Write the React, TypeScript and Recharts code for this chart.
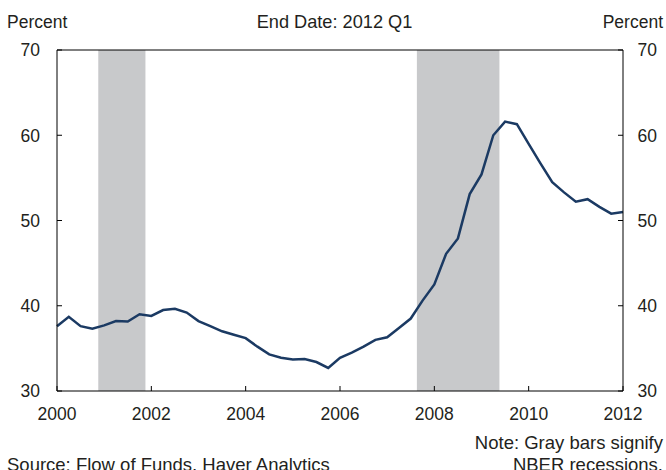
import React from 'react';
import {
  ComposedChart,
  Line,
  XAxis,
  YAxis,
  ReferenceArea,
  ReferenceLine,
} from 'recharts';

const quarters = [
  2000, 2000.25, 2000.5, 2000.75, 2001, 2001.25, 2001.5, 2001.75,
  2002, 2002.25, 2002.5, 2002.75, 2003, 2003.25, 2003.5, 2003.75,
  2004, 2004.25, 2004.5, 2004.75, 2005, 2005.25, 2005.5, 2005.75,
  2006, 2006.25, 2006.5, 2006.75, 2007, 2007.25, 2007.5, 2007.75,
  2008, 2008.25, 2008.5, 2008.75, 2009, 2009.25, 2009.5, 2009.75,
  2010, 2010.25, 2010.5, 2010.75, 2011, 2011.25, 2011.5, 2011.75,
  2012,
];

const values = [
  37.6, 38.7, 37.6, 37.3, 37.7, 38.2, 38.15, 39.0,
  38.8, 39.5, 39.65, 39.2, 38.2, 37.6, 37.0, 36.6,
  36.2, 35.2, 34.3, 33.9, 33.7, 33.75, 33.4, 32.7,
  33.9, 34.5, 35.2, 36.0, 36.3, 37.4, 38.5, 40.6,
  42.5, 46.1, 47.9, 53.1, 55.4, 60.0, 61.6, 61.3,
  59.0, 56.7, 54.5, 53.3, 52.2, 52.5, 51.6, 50.8,
  51.0,
];

const recessions = [
  [2000.875, 2001.875],
  [2007.63, 2009.38],
];

const xTicks = [2000, 2002, 2004, 2006, 2008, 2010, 2012];
const yTicks = [30, 40, 50, 60, 70];

const data = quarters.map((q, i) => ({ q, v: values[i] }));

const FONT = 'Liberation Sans, Arial, sans-serif';
const TEXT = '#231f20';
const TICK_FS = 17.5;

// inward tick marks: the text sits tickMargin px outside the axis line
const XTick = (props: any) => {
  const { x, y, payload } = props;
  const axisY = y - 10;
  return (
    <g>
      <line x1={x} x2={x} y1={axisY} y2={axisY - 5} stroke="#000" strokeWidth={1} />
      <text x={x} y={axisY + 28.5} textAnchor="middle" fontSize={TICK_FS} fontFamily={FONT} fill={TEXT}>
        {payload.value}
      </text>
    </g>
  );
};

const YTickLeft = (props: any) => {
  const { x, y, payload } = props;
  const axisX = x + 10;
  return (
    <g>
      <line x1={axisX} x2={axisX + 5} y1={y} y2={y} stroke="#000" strokeWidth={1} />
      <text x={axisX - 17} y={y + 6.3} textAnchor="end" fontSize={TICK_FS} fontFamily={FONT} fill={TEXT}>
        {payload.value}
      </text>
    </g>
  );
};

const YTickRight = (props: any) => {
  const { x, y, payload } = props;
  const axisX = x - 10;
  return (
    <g>
      <line x1={axisX} x2={axisX - 5} y1={y} y2={y} stroke="#000" strokeWidth={1} />
      <text x={axisX + 14.5} y={y + 6.3} textAnchor="start" fontSize={TICK_FS} fontFamily={FONT} fill={TEXT}>
        {payload.value}
      </text>
    </g>
  );
};

const label: React.CSSProperties = {
  position: 'absolute',
  fontFamily: FONT,
  fontSize: 17.5,
  color: TEXT,
  whiteSpace: 'nowrap',
  lineHeight: '21px',
};

const foot: React.CSSProperties = {
  ...label,
  fontSize: 18.5,
  lineHeight: '22px',
};

export default function App() {
  return (
    <div style={{ position: 'absolute', left: 0, top: 0, width: 666, height: 470, background: '#fff', overflow: 'hidden' }}>
      <ComposedChart
        width={666}
        height={470}
        data={data}
        margin={{ top: 50, right: 0, bottom: 49, left: 0 }}
      >
        {recessions.map(([a, b], i) => (
          <ReferenceArea key={i} x1={a} x2={b} yAxisId="l" fill="#c8c9cb" fillOpacity={1} stroke="none" />
        ))}
        <XAxis
          dataKey="q"
          type="number"
          domain={[2000, 2012]}
          ticks={xTicks}
          height={30}
          tickSize={0}
          tickMargin={10}
          stroke="#000"
          tick={<XTick />}
          interval={0}
        />
        <YAxis
          yAxisId="l"
          type="number"
          domain={[30, 70]}
          ticks={yTicks}
          width={57}
          tickSize={0}
          tickMargin={10}
          stroke="#000"
          tick={<YTickLeft />}
          interval={0}
        />
        <YAxis
          yAxisId="r"
          type="number"
          orientation="right"
          domain={[30, 70]}
          ticks={yTicks}
          width={43}
          tickSize={0}
          tickMargin={10}
          stroke="#000"
          tick={<YTickRight />}
          interval={0}
        />
        <ReferenceLine y={70} yAxisId="r" stroke="#000" strokeWidth={1} />
        <Line
          yAxisId="r"
          dataKey="v"
          type="linear"
          stroke="none"
          dot={false}
          activeDot={false}
          isAnimationActive={false}
        />
        <Line
          yAxisId="l"
          dataKey="v"
          type="linear"
          stroke="#1b3a63"
          strokeWidth={2.5}
          dot={false}
          isAnimationActive={false}
        />
      </ComposedChart>
      <div style={{ ...label, left: 7, top: 12 }}>Percent</div>
      <div style={{ ...label, fontSize: 18.2, left: 0, width: 669, top: 12, textAlign: 'center' }}>End Date: 2012 Q1</div>
      <div style={{ ...label, right: 3, top: 12 }}>Percent</div>
      <div style={{ ...foot, right: 3, top: 432, textAlign: 'right' }}>
        Note: Gray bars signify
        <br />
        NBER recessions.
      </div>
      <div style={{ ...foot, left: 7, top: 453.5 }}>Source: Flow of Funds, Haver Analytics</div>
    </div>
  );
}
